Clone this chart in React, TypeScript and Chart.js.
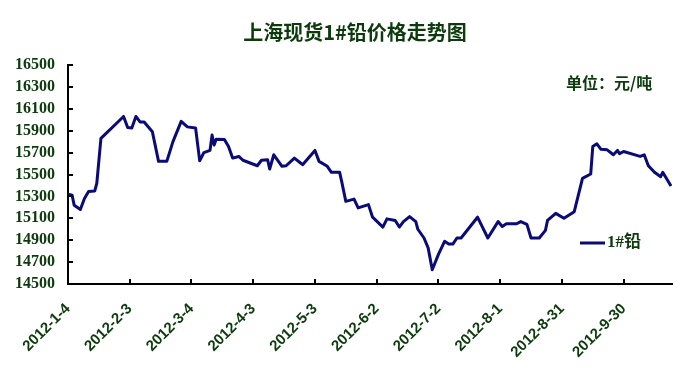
import React, { useEffect, useRef } from "react";
import { Chart, registerables } from "chart.js";

Chart.register(...registerables);

const chartTitle = "上海现货1#铅价格走势图";
const unitLabel = "单位：元/吨";
const seriesName = "1#铅";
const baseDate = "2012-01-04";
const axisEndDate = "2012-10-24";

const dates = [
  "2012-01-04", "2012-01-06", "2012-01-07", "2012-01-10", "2012-01-12", "2012-01-14", "2012-01-17", "2012-01-18",
  "2012-01-20", "2012-01-31", "2012-02-02", "2012-02-04", "2012-02-06", "2012-02-08", "2012-02-10", "2012-02-14",
  "2012-02-15", "2012-02-17", "2012-02-21", "2012-02-24", "2012-02-28", "2012-03-02", "2012-03-06", "2012-03-08",
  "2012-03-10", "2012-03-13", "2012-03-14", "2012-03-15", "2012-03-16", "2012-03-20", "2012-03-22", "2012-03-24",
  "2012-03-27", "2012-03-29", "2012-04-05", "2012-04-07", "2012-04-10", "2012-04-11", "2012-04-13", "2012-04-17",
  "2012-04-19", "2012-04-23", "2012-04-26", "2012-04-27", "2012-05-03", "2012-05-05", "2012-05-09", "2012-05-11",
  "2012-05-15", "2012-05-16", "2012-05-18", "2012-05-22", "2012-05-24", "2012-05-29", "2012-05-31", "2012-06-05",
  "2012-06-07", "2012-06-11", "2012-06-13", "2012-06-15", "2012-06-18", "2012-06-21", "2012-06-22", "2012-06-25",
  "2012-06-27", "2012-06-29", "2012-07-02", "2012-07-05", "2012-07-07", "2012-07-09", "2012-07-11", "2012-07-13",
  "2012-07-21", "2012-07-26", "2012-07-31", "2012-08-02", "2012-08-04", "2012-08-09", "2012-08-11", "2012-08-14",
  "2012-08-16", "2012-08-20", "2012-08-23", "2012-08-24", "2012-08-28", "2012-09-01", "2012-09-06", "2012-09-10",
  "2012-09-14", "2012-09-15", "2012-09-17", "2012-09-19", "2012-09-22", "2012-09-25", "2012-09-27", "2012-09-28",
  "2012-09-30", "2012-10-08", "2012-10-10", "2012-10-12", "2012-10-15", "2012-10-18", "2012-10-19", "2012-10-23",
];

const prices = [
  15320, 15310, 15220, 15180, 15280, 15345, 15350, 15420,
  15830, 16030, 15930, 15925, 16030, 15980, 15980, 15890,
  15800, 15620, 15620, 15800, 15985, 15935, 15925, 15625,
  15700, 15720, 15860, 15770, 15822, 15820, 15755, 15650,
  15665, 15630, 15580, 15630, 15635, 15550, 15680, 15575,
  15580, 15650, 15605, 15590, 15720, 15620, 15575, 15520,
  15520, 15435, 15255, 15275, 15195, 15225, 15110, 15020,
  15095, 15080, 15020, 15070, 15115, 15070, 15000, 14920,
  14830, 14630, 14770, 14890, 14865, 14865, 14920, 14920,
  15110, 14920, 15070, 15025, 15050, 15050, 15070, 15045,
  14920, 14920, 14990, 15080, 15145, 15100, 15160, 15465,
  15505, 15755, 15780, 15730, 15725, 15680, 15720, 15690,
  15710, 15665, 15680, 15580, 15520, 15480, 15520, 15395,
];

const xTickDates = [
  "2012-01-04", "2012-02-03", "2012-03-04", "2012-04-03", "2012-05-03",
  "2012-06-02", "2012-07-02", "2012-08-01", "2012-08-31", "2012-09-30",
];
const xTickLabels = [
  "2012-1-4", "2012-2-3", "2012-3-4", "2012-4-3", "2012-5-3",
  "2012-6-2", "2012-7-2", "2012-8-1", "2012-8-31", "2012-9-30",
];

const yMin = 14500;
const yMax = 16500;
const yStep = 200;

const toUTC = (s: string) => {
  const [y, m, d] = s.split("-").map(Number);
  return Date.UTC(y, m - 1, d);
};
const dayOf = (s: string) => Math.round((toUTC(s) - toUTC(baseDate)) / 86400000);

const TEXT_GREEN = "#0d3b0d";
const LINE_NAVY = "#0a0a78";

export default function App() {
  const canvasRef = useRef<HTMLCanvasElement | null>(null);

  useEffect(() => {
    const canvas = canvasRef.current;
    if (!canvas) return;

    const tickDays = xTickDates.map(dayOf);

    const decor = {
      id: "decor",
      afterDraw(chart: any) {
        const ctx = chart.ctx;
        const xs = chart.scales.x;
        const ys = chart.scales.y;
        const area = chart.chartArea;
        ctx.save();
        // inward tick marks
        ctx.strokeStyle = "#000";
        ctx.lineWidth = 2;
        ctx.beginPath();
        tickDays.forEach((d: number) => {
          const px = Math.round(xs.getPixelForValue(d));
          ctx.moveTo(px, area.bottom);
          ctx.lineTo(px, area.bottom - 5);
        });
        for (let v = yMin; v <= yMax; v += yStep) {
          const py = Math.round(ys.getPixelForValue(v));
          ctx.moveTo(area.left, py);
          ctx.lineTo(area.left + 5, py);
        }
        ctx.stroke();

        // title
        ctx.fillStyle = TEXT_GREEN;
        ctx.textAlign = "center";
        ctx.textBaseline = "middle";
        ctx.font = "bold 20px 'Noto Sans CJK SC', 'Liberation Serif', serif";
        ctx.fillText(chartTitle, 355, 32);

        // unit
        ctx.textAlign = "left";
        ctx.font = "bold 16px 'Noto Sans CJK SC', 'Liberation Serif', serif";
        ctx.fillText(unitLabel, 566, 83);

        // legend
        ctx.strokeStyle = LINE_NAVY;
        ctx.lineWidth = 3;
        ctx.beginPath();
        ctx.moveTo(580, 243);
        ctx.lineTo(605, 243);
        ctx.stroke();
        ctx.fillStyle = TEXT_GREEN;
        ctx.font = "bold 17px 'Liberation Serif', 'Noto Sans CJK SC', serif";
        ctx.fillText(seriesName, 607, 243);
        ctx.restore();
      },
    };

    const chart = new Chart(canvas, {
      type: "line",
      data: {
        datasets: [
          {
            label: seriesName,
            data: dates.map((d, i) => ({ x: dayOf(d), y: prices[i] })),
            borderColor: LINE_NAVY,
            backgroundColor: LINE_NAVY,
            borderWidth: 3,
            pointRadius: 0,
            tension: 0,
            borderJoinStyle: "round",
          },
        ],
      },
      options: {
        responsive: false,
        animation: false,
        layout: { padding: { left: 0, top: 65, right: 25, bottom: 0 } },
        plugins: {
          legend: { display: false },
          title: { display: false },
          tooltip: { enabled: false },
        },
        scales: {
          x: {
            type: "linear",
            min: 0,
            max: dayOf(axisEndDate) - 0.5,
            afterBuildTicks: (axis: any) => {
              axis.ticks = tickDays.map((v: number) => ({ value: v }));
            },
            afterFit: (axis: any) => {
              axis.height = 96;
            },
            grid: { display: false, drawTicks: false },
            border: { display: true, color: "#000", width: 2 },
            ticks: {
              autoSkip: false,
              minRotation: 45,
              maxRotation: 45,
              padding: 16,
              color: TEXT_GREEN,
              font: { family: "'Liberation Sans', Arial, sans-serif", size: 15, weight: "bold" },
              callback: (value: any) => {
                const idx = tickDays.indexOf(Number(value));
                return idx >= 0 ? xTickLabels[idx] : "";
              },
            },
          },
          y: {
            min: yMin,
            max: yMax,
            afterFit: (axis: any) => {
              axis.width = 68;
            },
            grid: { display: false, drawTicks: false },
            border: { display: true, color: "#000", width: 2 },
            ticks: {
              stepSize: yStep,
              autoSkip: false,
              padding: 13,
              color: TEXT_GREEN,
              font: { family: "'Liberation Serif', 'Times New Roman', serif", size: 16, weight: "bold" },
              callback: (value: any) => String(value),
            },
          },
        },
      },
      plugins: [decor],
    });

    return () => chart.destroy();
  }, []);

  return (
    <div style={{ position: "fixed", left: 0, top: 0, width: 697, height: 380, background: "#fff" }}>
      <canvas ref={canvasRef} width={697} height={380} />
    </div>
  );
}
